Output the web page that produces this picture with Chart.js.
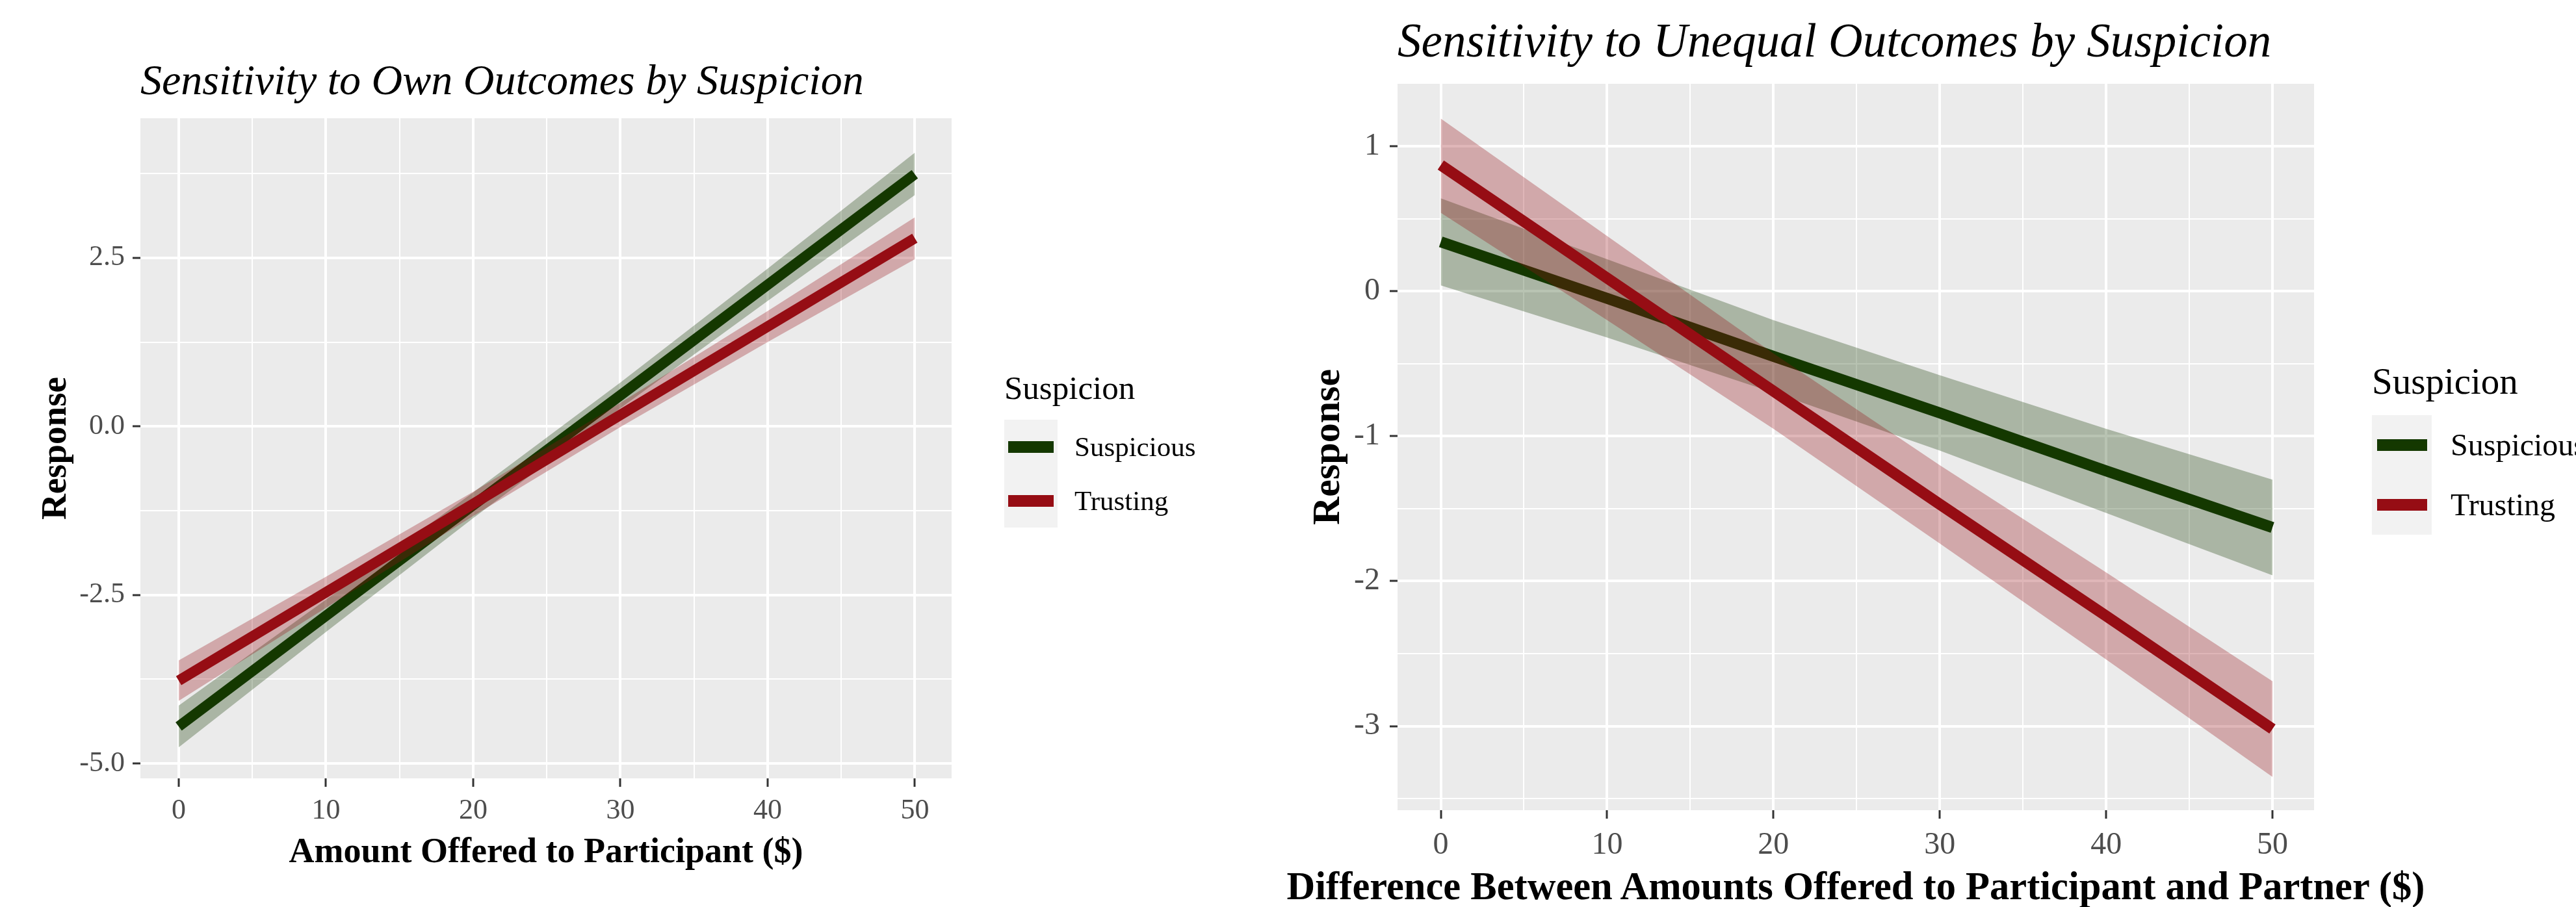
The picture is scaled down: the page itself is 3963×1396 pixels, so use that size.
<!DOCTYPE html>
<html>
<head>
<meta charset="utf-8">
<title>Sensitivity by Suspicion</title>
<script src="https://cdn.jsdelivr.net/npm/chart.js@4.4.1/dist/chart.umd.min.js"></script>
<style>
  body { margin: 0; width: 3963px; height: 1396px; background: #fff; position: relative; overflow: hidden;
         font-family: 'Liberation Serif', 'Times New Roman', serif; }
  canvas { position: absolute; top: 0; }
  .title { position: absolute; font-style: italic; line-height: 1; white-space: nowrap; color: #000; }
  .xtitle { position: absolute; font-weight: bold; line-height: 1; white-space: nowrap; color: #000;
            transform: translateX(-50%); }
  .leg-title { position: absolute; line-height: 1; white-space: nowrap; color: #000; }
  .leg-row { position: absolute; display: flex; align-items: center; white-space: nowrap; }
  .leg-key { background: #f2f2f2; display: flex; align-items: center; justify-content: center; }
  .leg-label { line-height: 1; color: #000; }
</style>
</head>
<body>

<div class="title" style="left:216px; top:90px; font-size:66px;">Sensitivity to Own Outcomes by Suspicion</div>
<div class="title" style="left:2150px; top:26px; font-size:73px;">Sensitivity to Unequal Outcomes by Suspicion</div>

<canvas id="ownChart" width="1950" height="1396" style="left:0px"></canvas>
<canvas id="uneqChart" width="2013" height="1396" style="left:1950px"></canvas>

<div class="xtitle" style="left:840px; top:1282px; font-size:54px;">Amount Offered to Participant ($)</div>
<div class="xtitle" style="left:2855px; top:1334px; font-size:60.5px;">Difference Between Amounts Offered to Participant and Partner ($)</div>

<div id="ownLegend"></div>
<div id="uneqLegend"></div>

<script>
const xValues = [0, 10, 20, 30, 40, 50];
const groupNames = ['Suspicious', 'Trusting'];
const groupColors = ['#143800', '#960d14'];
const groupFills = ['rgba(20, 56, 0, 0.3)', 'rgba(150, 13, 20, 0.3)'];

// Own outcomes panel
const ownSuspFit   = [-4.45, -2.81, -1.17, 0.46, 2.10, 3.74];
const ownSuspLow   = [-4.76, -3.05, -1.36, 0.27, 1.86, 3.43];
const ownSuspHigh  = [-4.14, -2.57, -0.98, 0.65, 2.34, 4.06];
const ownTrustFit  = [-3.77, -2.46, -1.15, 0.17, 1.48, 2.79];
const ownTrustLow  = [-4.07, -2.69, -1.33, -0.01, 1.25, 2.48];
const ownTrustHigh = [-3.47, -2.23, -0.97, 0.35, 1.71, 3.10];

// Unequal outcomes panel
const uneqSuspFit   = [0.34, -0.05, -0.45, -0.84, -1.24, -1.63];
const uneqSuspLow   = [0.04, -0.32, -0.70, -1.10, -1.53, -1.96];
const uneqSuspHigh  = [0.64, 0.22, -0.20, -0.58, -0.95, -1.30];
const uneqTrustFit  = [0.87, 0.09, -0.69, -1.47, -2.24, -3.02];
const uneqTrustLow  = [0.54, -0.20, -0.95, -1.74, -2.54, -3.35];
const uneqTrustHigh = [1.19, 0.38, -0.43, -1.20, -1.94, -2.69];

// tick labels
const xTickLabels = [0, 10, 20, 30, 40, 50];
const ownYTickLabels = ['-5.0', '-2.5', '0.0', '2.5'];
const uneqYTickLabels = ['-3', '-2', '-1', '0', '1'];

Chart.defaults.font.family = "'Liberation Serif', 'Times New Roman', serif";

function pts(ys) {
    return xValues.map((x, i) => ({ x: x, y: ys[i] }));
}

function group(fit, low, high, idx, orderBase, lw) {
    return [
        { label: groupNames[idx] + ' low', data: pts(low), borderColor: 'transparent', borderWidth: 0,
          pointRadius: 0, fill: false, order: orderBase + 2 },
        { label: groupNames[idx] + ' high', data: pts(high), borderColor: 'transparent', borderWidth: 0,
          pointRadius: 0, fill: '-1', backgroundColor: groupFills[idx], order: orderBase + 1 },
        { label: groupNames[idx], data: pts(fit), borderColor: groupColors[idx], borderWidth: lw,
          pointRadius: 0, fill: false, tension: 0, borderCapStyle: 'butt', order: orderBase }
    ];
}

// grey panel behind the grid
const panelBg = {
    id: 'panelBg',
    beforeDraw(chart) {
        const a = chart.chartArea;
        const c = chart.ctx;
        c.save();
        c.fillStyle = '#ebebeb';
        c.fillRect(a.left, a.top, a.right - a.left, a.bottom - a.top);
        c.restore();
    }
};

function isMajorY(value, labels) {
    return labels.some(l => Math.abs(parseFloat(l) - value) < 1e-6);
}

function makeChart(id, cfg) {
    const tickColor = '#4d4d4d';
    return new Chart(document.getElementById(id), {
        type: 'line',
        data: { datasets: cfg.datasets },
        plugins: [panelBg],
        options: {
            responsive: false,
            animation: false,
            layout: { padding: { top: cfg.area.top, right: cfg.width - cfg.area.right, left: 0, bottom: 0 } },
            plugins: { legend: { display: false }, tooltip: { enabled: false } },
            scales: {
                x: {
                    type: 'linear',
                    min: -2.6, max: 52.5,
                    afterFit(scale) { scale.height = 1396 - cfg.area.bottom; },
                    border: { display: false },
                    grid: {
                        color: '#ffffff',
                        lineWidth: ctx => (xTickLabels.includes(ctx.tick.value) ? 4 : 2),
                        tickLength: 13,
                        tickWidth: 3,
                        tickColor: ctx => (xTickLabels.includes(ctx.tick.value) ? '#333333' : 'rgba(0,0,0,0)')
                    },
                    ticks: {
                        stepSize: 5,
                        includeBounds: false,
                        autoSkip: false,
                        maxRotation: 0,
                        padding: cfg.xTickPad,
                        color: tickColor,
                        font: { size: cfg.tickSize, lineHeight: 1 },
                        callback: v => (xTickLabels.includes(v) ? String(v) : '')
                    }
                },
                y: {
                    min: cfg.yMin, max: cfg.yMax,
                    afterFit(scale) { scale.width = cfg.area.left; },
                    border: { display: false },
                    grid: {
                        color: '#ffffff',
                        lineWidth: ctx => (isMajorY(ctx.tick.value, cfg.yLabels) ? 4 : 2),
                        tickLength: 12,
                        tickWidth: 3,
                        tickColor: ctx => (isMajorY(ctx.tick.value, cfg.yLabels) ? '#333333' : 'rgba(0,0,0,0)')
                    },
                    ticks: {
                        stepSize: cfg.yStep,
                        includeBounds: false,
                        padding: cfg.yTickPad,
                        color: tickColor,
                        font: { size: cfg.tickSize, lineHeight: 1 },
                        callback: v => {
                            const hit = cfg.yLabels.find(l => Math.abs(parseFloat(l) - v) < 1e-6);
                            return hit === undefined ? '' : hit;
                        }
                    },
                    title: {
                        display: true,
                        text: 'Response',
                        color: '#000',
                        font: { size: cfg.yTitleSize, weight: 'bold', lineHeight: 1 },
                        padding: { top: cfg.yTitlePad, bottom: 0 }
                    }
                }
            }
        }
    });
}

makeChart('ownChart', {
    width: 1950,
    area: { left: 216, right: 1464, top: 182, bottom: 1198 },
    datasets: group(ownSuspFit, ownSuspLow, ownSuspHigh, 0, 3, 16)
        .concat(group(ownTrustFit, ownTrustLow, ownTrustHigh, 1, 0, 16)),
    yMin: -5.22, yMax: 4.57, yStep: 1.25,
    yLabels: ownYTickLabels,
    tickSize: 44, xTickPad: 15, yTickPad: 12,
    yTitleSize: 55, yTitlePad: 59
});

makeChart('uneqChart', {
    width: 2013,
    area: { left: 200, right: 1610, top: 129, bottom: 1247 },
    datasets: group(uneqSuspFit, uneqSuspLow, uneqSuspHigh, 0, 3, 17)
        .concat(group(uneqTrustFit, uneqTrustLow, uneqTrustHigh, 1, 0, 17)),
    yMin: -3.58, yMax: 1.43, yStep: 0.5,
    yLabels: uneqYTickLabels,
    tickSize: 48, xTickPad: 17, yTickPad: 15,
    yTitleSize: 60, yTitlePad: 64
});

// ggplot-style legends
function makeLegend(id, L) {
    const box = document.getElementById(id);
    let html = '<div class="leg-title" style="left:' + L.left + 'px; top:' + L.titleTop + 'px; font-size:' +
        L.titleSize + 'px;">Suspicion</div>';
    groupNames.forEach((name, i) => {
        html += '<div class="leg-row" style="left:' + L.left + 'px; top:' + (L.keyTop + i * L.keyH) + 'px;">' +
            '<div class="leg-key" style="width:' + L.keyW + 'px; height:' + L.keyH + 'px;">' +
            '<div style="width:' + L.lineW + 'px; height:18px; background:' + groupColors[i] + ';"></div></div>' +
            '<div class="leg-label" style="margin-left:' + L.gap + 'px; font-size:' + L.labelSize + 'px;">' +
            name + '</div></div>';
    });
    box.innerHTML = html;
}

makeLegend('ownLegend', { left: 1545, titleTop: 572, titleSize: 51, keyTop: 646, keyW: 82, keyH: 83,
    lineW: 70, gap: 26, labelSize: 43 });
makeLegend('uneqLegend', { left: 3649, titleTop: 558, titleSize: 57, keyTop: 639, keyW: 92, keyH: 92,
    lineW: 77, gap: 29, labelSize: 48 });
</script>
</body>
</html>
